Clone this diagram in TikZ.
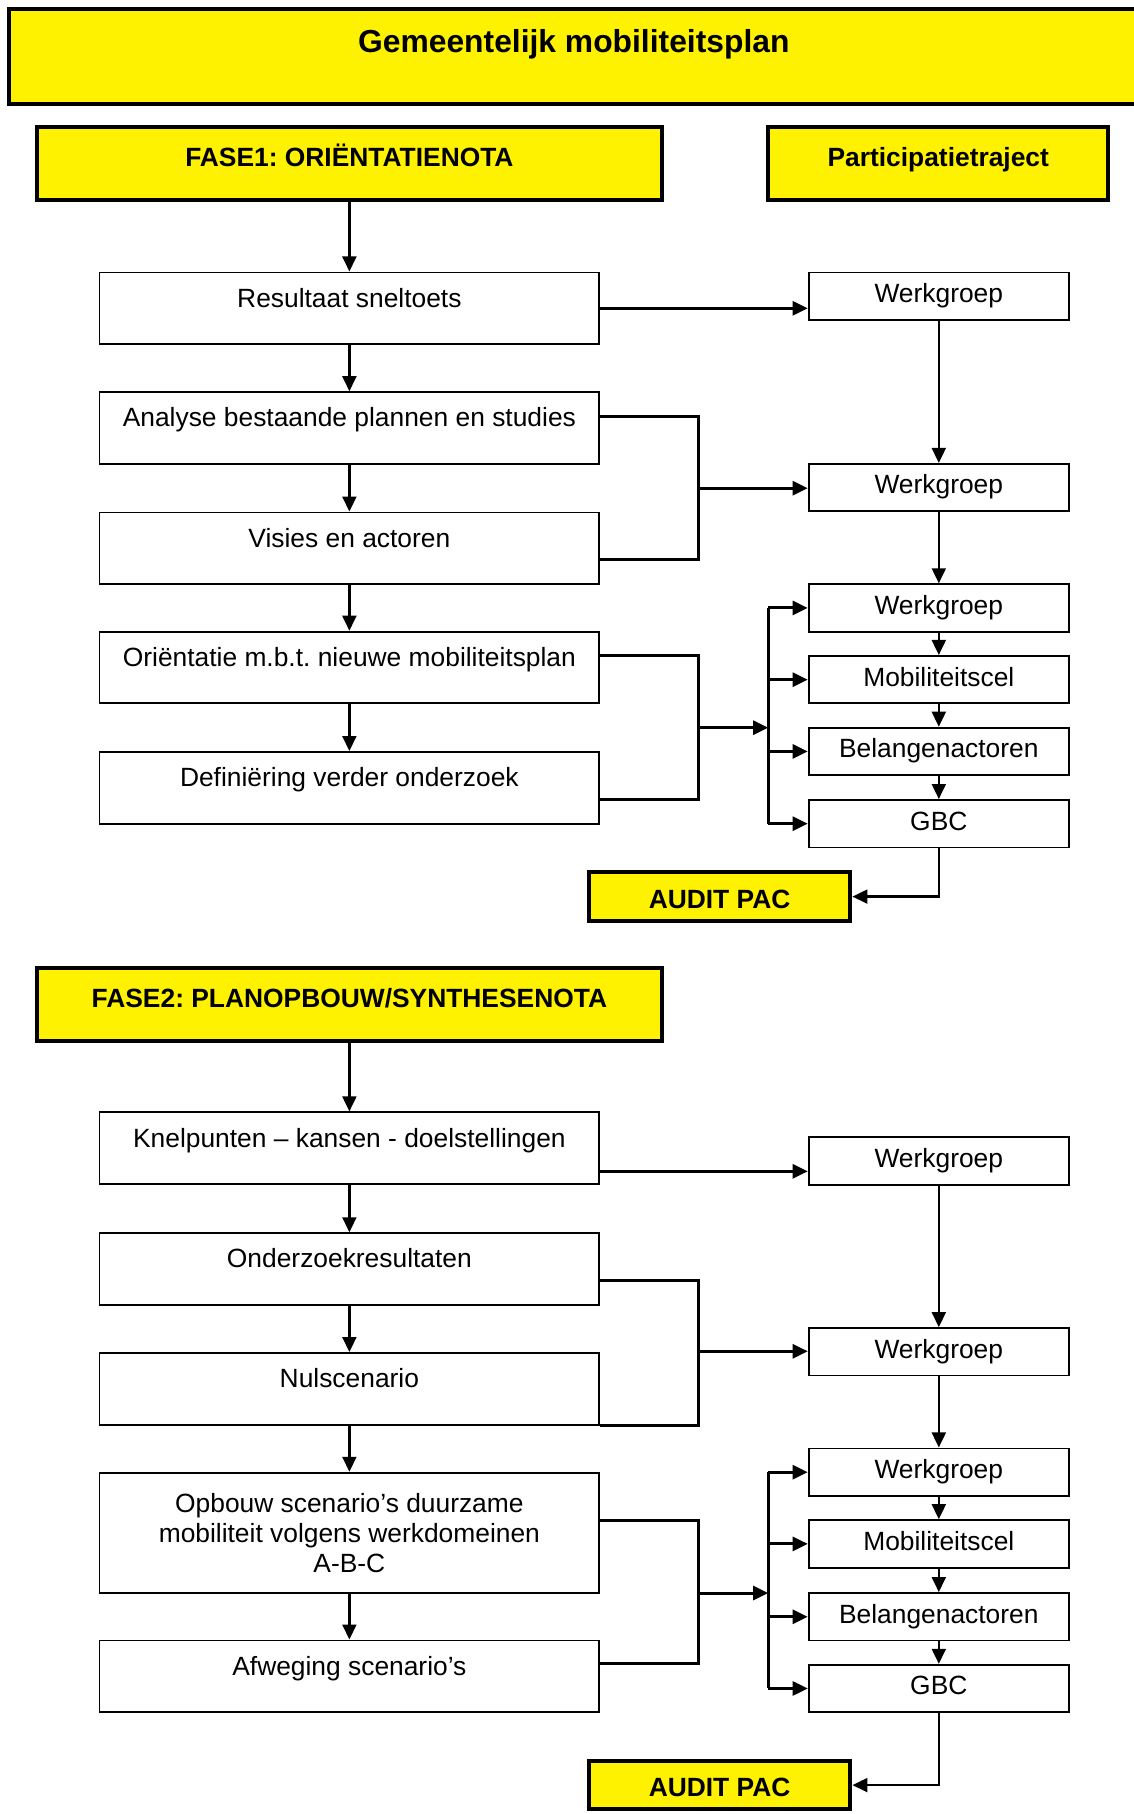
\documentclass[tikz,border=0pt]{standalone}
\usepackage{fontspec}
\setmainfont{Liberation Sans}
\frenchspacing
\usetikzlibrary{arrows.meta, positioning, calc}

\begin{document}
\begin{tikzpicture}[
    x=1pt, y=-1pt,
    titel/.style={
        rectangle,
        draw,
        fill=yellow,
        line width=3.6pt,
        inner sep=0pt,
        minimum width=976pt,
        text height=37pt,
        text depth=45pt,
        font=\fontsize{27.5}{32}\selectfont\bfseries
    },
    fase/.style={
        rectangle,
        draw,
        fill=yellow,
        line width=3.6pt,
        inner sep=0pt,
        minimum width=540pt,
        text height=34pt,
        text depth=29pt,
        font=\fontsize{22.8}{27}\selectfont\bfseries
    },
    stap/.style={
        rectangle,
        draw,
        line width=1.6pt,
        inner sep=0pt,
        minimum width=432pt,
        text height=30pt,
        text depth=32pt,
        font=\fontsize{22.8}{27}\selectfont
    },
    groep/.style={
        rectangle,
        draw,
        line width=1.6pt,
        inner sep=0pt,
        minimum width=225pt,
        text height=26pt,
        text depth=15pt,
        font=\fontsize{22.8}{27}\selectfont
    },
    auditbox/.style={
        rectangle,
        draw,
        fill=yellow,
        line width=3.6pt,
        inner sep=0pt,
        minimum width=226pt,
        text height=31pt,
        text depth=11pt,
        font=\fontsize{22.8}{27}\selectfont\bfseries
    },
    pijl/.style={-{Triangle[length=13pt,width=12pt]}, line width=2pt},
    lijn/.style={line width=2.6pt}
]
\useasboundingbox (0,0) rectangle (980,1568);

% --- titel ---
\node[titel] (plan) at (496,49) {Gemeentelijk mobiliteitsplan};

% ============================================================
%  FASE 1
% ============================================================
\node[fase] (fase1) at (302,141.5) {FASE1: ORIËNTATIENOTA};
\node[fase, minimum width=294pt] (part) at (811,141.5) {Participatietraject};

% --- links ---
\node[stap] (res) at (302,266.5) {Resultaat sneltoets};
\node[stap] (ana) at (302,370)   {Analyse bestaande plannen en studies};
\node[stap] (vis) at (302,474)   {Visies en actoren};
\node[stap] (ori) at (302,577)   {Oriëntatie m.b.t. nieuwe mobiliteitsplan};
\node[stap] (def) at (302,681)   {Definiëring verder onderzoek};

% --- rechts ---
\node[groep] (wg1)  at (811.5,256)   {Werkgroep};
\node[groep] (wg2)  at (811.5,421.5) {Werkgroep};
\node[groep] (wg3)  at (811.5,525.5) {Werkgroep};
\node[groep] (mob1) at (811.5,587.5) {Mobiliteitscel};
\node[groep] (bel1) at (811.5,649.5) {Belangenactoren};
\node[groep] (gbc1) at (811.5,712)   {GBC};

\node[auditbox] (audit1) at (622,775) {AUDIT PAC};

% --- knooppunten ---
\coordinate (b1) at (604,422);
\coordinate (b2) at (604,629);
\coordinate (bus1) at (664,629);

% --- pijlen links ---
\draw[pijl] (fase1.south) -- (res.north);
\draw[pijl] (res.south) -- (ana.north);
\draw[pijl] (ana.south) -- (vis.north);
\draw[pijl] (vis.south) -- (ori.north);
\draw[pijl] (ori.south) -- (def.north);

% --- pijlen rechts ---
\draw[pijl] (wg1.south) -- (wg2.north);
\draw[pijl] (wg2.south) -- (wg3.north);
\draw[pijl] (wg3.south) -- (mob1.north);
\draw[pijl] (mob1.south) -- (bel1.north);
\draw[pijl] (bel1.south) -- (gbc1.north);

% --- links naar rechts ---
\draw[pijl, lijn] (res.east) -- (res.east -| wg1.west);
\draw[lijn] ([yshift=10pt]ana.east) -| (b1) |- ([yshift=-10pt]vis.east);
\draw[pijl, lijn] (b1) -- (b1 -| wg2.west);
\draw[lijn] ([yshift=10pt]ori.east) -| (b2) |- ([yshift=-10pt]def.east);
\draw[pijl, lijn] (b2) -- (bus1);
\draw[lijn] (wg3.west -| bus1) -- (gbc1.west -| bus1);
\foreach \n in {wg3, mob1, bel1, gbc1}
    \draw[pijl, lijn] (\n.west -| bus1) -- (\n.west);

% --- naar audit ---
\draw[pijl] (gbc1.south) |- (audit1.east);

% ============================================================
%  FASE 2
% ============================================================
\node[fase] (fase2) at (302,868.5) {FASE2: PLANOPBOUW/SYNTHESENOTA};

% --- links ---
\node[stap] (kne) at (302,992.5) {Knelpunten – kansen - doelstellingen};
\node[stap] (ond) at (302,1097)  {Onderzoekresultaten};
\node[stap] (nul) at (302,1200.5) {Nulscenario};
\node[stap, text height=, text depth=, minimum height=104pt, align=center,
      font=\fontsize{22.8}{26}\selectfont] (opb) at (302,1325)
    {Opbouw scenario’s duurzame\\mobiliteit volgens werkdomeinen\\A-B-C};
\node[stap] (afw) at (302,1449)  {Afweging scenario’s};

% --- rechts ---
\node[groep] (wg4)  at (811.5,1003.5) {Werkgroep};
\node[groep] (wg5)  at (811.5,1168.5) {Werkgroep};
\node[groep] (wg6)  at (811.5,1272.5) {Werkgroep};
\node[groep] (mob2) at (811.5,1334.5) {Mobiliteitscel};
\node[groep] (bel2) at (811.5,1397.5) {Belangenactoren};
\node[groep] (gbc2) at (811.5,1459.5) {GBC};

\node[auditbox] (audit2) at (622,1543) {AUDIT PAC};

% --- knooppunten ---
\coordinate (b3) at (604,1168);
\coordinate (b4) at (604,1377);
\coordinate (bus2) at (664,1377);

% --- pijlen links ---
\draw[pijl] (fase2.south) -- (kne.north);
\draw[pijl] (kne.south) -- (ond.north);
\draw[pijl] (ond.south) -- (nul.north);
\draw[pijl] (nul.south) -- (opb.north);
\draw[pijl] (opb.south) -- (afw.north);

% --- pijlen rechts ---
\draw[pijl] (wg4.south) -- (wg5.north);
\draw[pijl] (wg5.south) -- (wg6.north);
\draw[pijl] (wg6.south) -- (mob2.north);
\draw[pijl] (mob2.south) -- (bel2.north);
\draw[pijl] (bel2.south) -- (gbc2.north);

% --- links naar rechts ---
\draw[pijl, lijn] ([yshift=-20pt]kne.east) -- ([yshift=-20pt]kne.east -| wg4.west);
\draw[lijn] ([yshift=-10pt]ond.east) -| (b3) |- (nul.south east);
\draw[pijl, lijn] (b3) -- (b3 -| wg5.west);
\draw[lijn] ([yshift=11pt]opb.east) -| (b4) |- ([yshift=11pt]afw.east);
\draw[pijl, lijn] (b4) -- (bus2);
\draw[lijn] (wg6.west -| bus2) -- (gbc2.west -| bus2);
\foreach \n in {wg6, mob2, bel2, gbc2}
    \draw[pijl, lijn] (\n.west -| bus2) -- (\n.west);

% --- naar audit ---
\draw[pijl] (gbc2.south) |- (audit2.east);

\end{tikzpicture}
\end{document}
